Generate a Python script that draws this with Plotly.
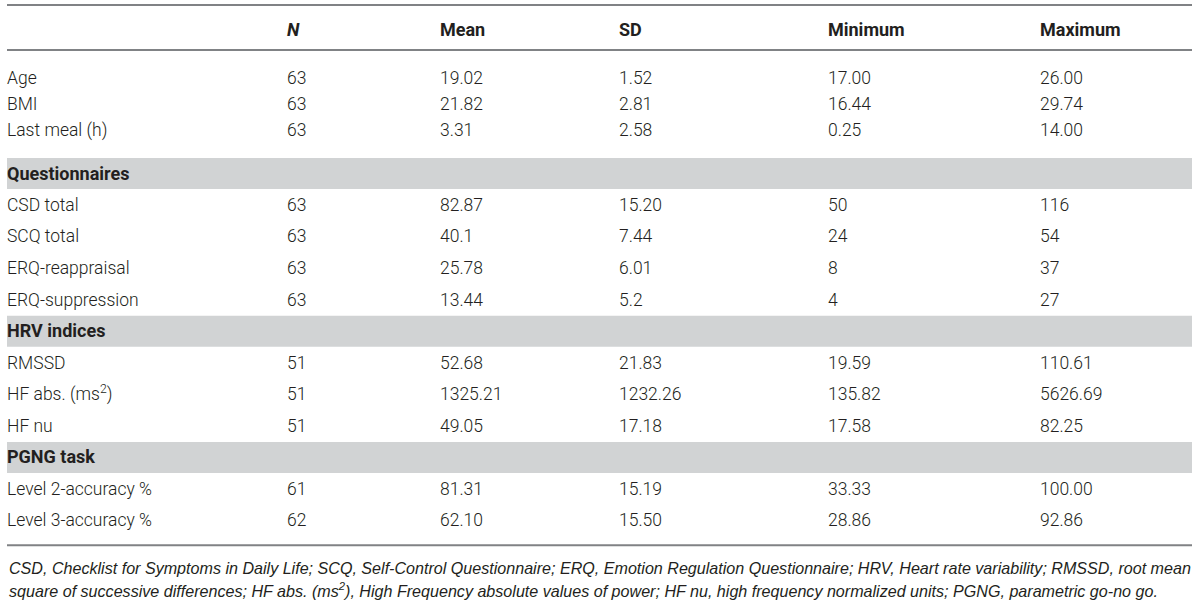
import plotly.graph_objects as go

# ---- table content ----
COLUMNS = ["<i>N</i>", "Mean", "SD", "Minimum", "Maximum"]

SECTIONS = [None, "Questionnaires", "HRV indices", "PGNG task"]

ROW_LABELS = [
    ["Age", "BMI", "Last meal (h)"],
    ["CSD total", "SCQ total", "ERQ-reappraisal", "ERQ-suppression"],
    ["RMSSD", "HF abs. (ms<sup>2</sup>)", "HF nu"],
    ["Level 2-accuracy %", "Level 3-accuracy %"],
]

N_VALUES = [[63, 63, 63], [63, 63, 63, 63], [51, 51, 51], [61, 62]]
MEAN_VALUES = [["19.02", "21.82", "3.31"],
               ["82.87", "40.1", "25.78", "13.44"],
               ["52.68", "1325.21", "49.05"],
               ["81.31", "62.10"]]
SD_VALUES = [["1.52", "2.81", "2.58"],
             ["15.20", "7.44", "6.01", "5.2"],
             ["21.83", "1232.26", "17.18"],
             ["15.19", "15.50"]]
MIN_VALUES = [["17.00", "16.44", "0.25"],
              ["50", "24", "8", "4"],
              ["19.59", "135.82", "17.58"],
              ["33.33", "28.86"]]
MAX_VALUES = [["26.00", "29.74", "14.00"],
              ["116", "54", "37", "27"],
              ["110.61", "5626.69", "82.25"],
              ["100.00", "92.86"]]

FOOTNOTE = [
    "CSD, Checklist for Symptoms in Daily Life; SCQ, Self-Control Questionnaire; "
    "ERQ, Emotion Regulation Questionnaire; HRV, Heart rate variability; RMSSD, root mean",
    "square of successive differences; HF abs. (ms<sup>2</sup>), High Frequency absolute "
    "values of power; HF nu, high frequency normalized units; PGNG, parametric go-no go.",
]

# ---- layout constants (pixels) ----
W, H = 1200, 606
LEFT, RIGHT = 7, 1192
COL_X = [7, 287, 440, 619, 828, 1040]
TEXT = "#231f20"
BAND = "#d1d3d4"
RULE = "#808285"
FONT = "Roboto"

TOP_RULE = 5
HEAD_Y = 31.5
HEAD_RULE = 50
FIRST_TOP = 65
FIRST_ROW_H = 26
GAP = 15
BAND_H = 31
ROW_H = 31.7
TEXT_DY = 1.5

# compute row centres
rows = []      # (y, values per column)
sections = []  # (y, label)
bands = []     # (y0, y1)
y = FIRST_TOP
for g, section in enumerate(SECTIONS):
    if section is not None:
        if g == 1:
            y += GAP
        bands.append((y, y + BAND_H))
        sections.append((y + BAND_H / 2 + TEXT_DY, "<b>%s</b>" % section))
        y += BAND_H
    rh = FIRST_ROW_H if g == 0 else ROW_H
    for i, label in enumerate(ROW_LABELS[g]):
        vals = [label, str(N_VALUES[g][i]), MEAN_VALUES[g][i], SD_VALUES[g][i],
                MIN_VALUES[g][i], MAX_VALUES[g][i]]
        rows.append((y + rh / 2 + TEXT_DY, vals))
        y += rh
BOTTOM_RULE = y + 9

fig = go.Figure()

# header
fig.add_trace(go.Scatter(
    x=COL_X[1:], y=[HEAD_Y] * len(COLUMNS),
    text=["<b>%s</b>" % c for c in COLUMNS],
    mode="text", textposition="middle right",
    textfont=dict(family=FONT, size=18, color=TEXT),
    hoverinfo="skip", showlegend=False,
))

# section titles in the grey bands
fig.add_trace(go.Scatter(
    x=[COL_X[0]] * len(sections), y=[s[0] for s in sections],
    text=[s[1] for s in sections],
    mode="text", textposition="middle right",
    textfont=dict(family=FONT, size=18, color=TEXT),
    hoverinfo="skip", showlegend=False,
))

# body
for c in range(len(COL_X)):
    fig.add_trace(go.Scatter(
        x=[COL_X[c]] * len(rows), y=[r[0] for r in rows],
        text=[r[1][c] for r in rows],
        mode="text", textposition="middle right",
        textfont=dict(family=FONT, size=17.5, color=TEXT, weight=300),
        hoverinfo="skip", showlegend=False,
    ))

shapes = []
for y0, y1 in bands:
    shapes.append(dict(type="rect", xref="x", yref="y", x0=LEFT, x1=RIGHT,
                       y0=y0, y1=y1, fillcolor=BAND, line_width=0, layer="below"))
for ry in (TOP_RULE, HEAD_RULE, BOTTOM_RULE):
    shapes.append(dict(type="line", xref="x", yref="y", x0=LEFT, x1=RIGHT,
                       y0=ry, y1=ry, line=dict(color=RULE, width=2)))

annotations = []
for i, line in enumerate(FOOTNOTE):
    annotations.append(dict(
        x=LEFT, y=568 + 22 * i, xref="x", yref="y", xanchor="left", yanchor="middle",
        text="<i>%s</i>" % line, showarrow=False,
        font=dict(family="Liberation Sans", size=16.1, color=TEXT),
    ))

fig.update_layout(
    width=W, height=H,
    margin=dict(l=0, r=0, t=0, b=0),
    paper_bgcolor="white", plot_bgcolor="white",
    xaxis=dict(range=[0, W], visible=False, fixedrange=True),
    yaxis=dict(range=[H, 0], visible=False, fixedrange=True),
    shapes=shapes, annotations=annotations,
)

fig.write_html("out.html", config={"displayModeBar": False},
               post_script="document.body.style.margin = '0';")
